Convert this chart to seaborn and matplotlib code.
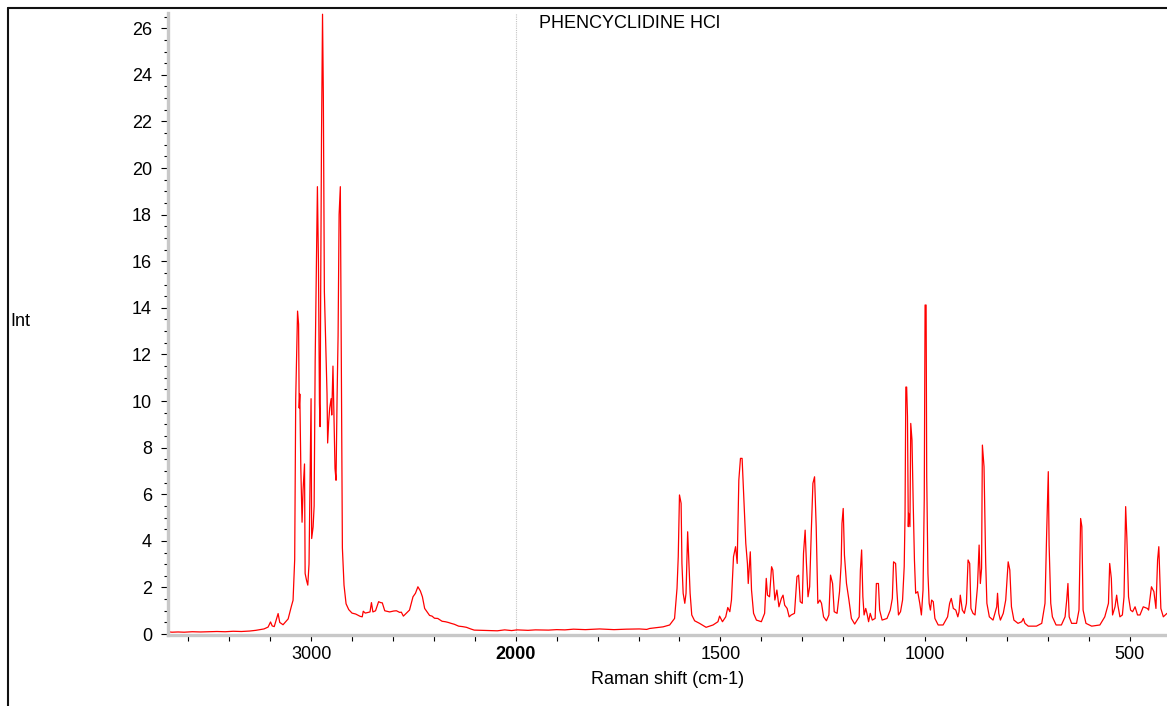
import numpy as np
import pandas as pd
import matplotlib
matplotlib.use("Agg")
import matplotlib.pyplot as plt
from matplotlib.lines import Line2D
import seaborn as sns

sns.set_theme(style="white")
plt.rcParams['font.family'] = ['Liberation Sans', 'DejaVu Sans']
plt.rcParams['text.color'] = 'black'
plt.rcParams['axes.labelcolor'] = 'black'
plt.rcParams['xtick.color'] = 'black'
plt.rcParams['ytick.color'] = 'black'

title = "PHENCYCLIDINE HCl"
x_label = "Raman shift (cm-1)"
y_label = "Int"

# C-H stretching region (cm-1) and intensities
ch_shift = [3699, 3680, 3650, 3620, 3580, 3540, 3500, 3460, 3420, 3380, 3340, 3300,
            3270, 3250, 3230, 3210, 3198, 3190, 3180, 3161, 3153, 3137, 3112, 3096,
            3088, 3080, 3075, 3066, 3061, 3058, 3055, 3050, 3044, 3039, 3032, 3029,
            3022, 3016, 3010, 3006, 3000, 2997, 2990, 2985, 2980, 2974, 2969, 2964,
            2959, 2956, 2953, 2949, 2944, 2940, 2935, 2928, 2922, 2919, 2914, 2909,
            2902, 2899, 2893, 2888, 2883, 2878, 2873, 2868, 2863, 2857, 2852, 2847,
            2839, 2829, 2816, 2800, 2782, 2760, 2750, 2745, 2735, 2726, 2712, 2705,
            2698, 2685, 2670, 2660, 2652, 2640, 2616, 2596, 2583, 2567, 2559, 2549,
            2535, 2519, 2502, 2490, 2478, 2466, 2456, 2445, 2437, 2421, 2409, 2397,
            2381, 2360, 2344, 2330]
ch_int = [0.10, 0.08, 0.09, 0.08, 0.10, 0.09, 0.10, 0.11, 0.10, 0.12, 0.11, 0.13,
          0.16, 0.19, 0.22, 0.30, 0.52, 0.35, 0.32, 0.88, 0.50, 0.40, 0.65, 1.2,
          1.45, 3.2, 10.1, 13.86, 13.3, 9.7, 10.3, 7.1, 4.8, 6.2, 7.3, 2.6,
          2.3, 2.1, 3.0, 5.7, 10.1, 4.1, 4.6, 5.5, 11.7, 16.0, 19.2, 16.0,
          9.9, 8.9, 14.7, 21.3, 26.6, 23.1, 14.7, 12.3, 10.3, 8.2, 9.1, 9.7,
          10.1, 9.4, 11.5, 9.4, 7.1, 6.6, 10.1, 12.8, 18.0, 19.2, 11.5, 3.7,
          2.1, 1.3, 1.05, 0.9, 0.86, 0.76, 0.74, 0.98, 0.9, 0.92, 0.95, 1.35,
          0.95, 1.0, 1.39, 1.35, 1.34, 1.0, 0.95, 0.99, 1.0, 0.93, 0.94, 0.77,
          0.89, 1.03, 1.6, 1.75, 2.03, 1.85, 1.6, 1.1, 1.0, 0.8, 0.77, 0.68,
          0.67, 0.55, 0.53, 0.5]

# quiet middle region
mid_shift = [2316, 2300, 2279, 2260, 2241, 2220, 2203, 2170, 2129, 2090, 2054, 2020,
             1997, 1970, 1952, 1920, 1900, 1880, 1859, 1830, 1795, 1760, 1730, 1698, 1680]
mid_int = [0.46, 0.42, 0.34, 0.32, 0.29, 0.22, 0.17, 0.16, 0.15, 0.14, 0.18, 0.15,
           0.18, 0.16, 0.18, 0.17, 0.19, 0.18, 0.21, 0.19, 0.22, 0.19, 0.21, 0.22, 0.20]

# fingerprint region
fp_shift = [1673, 1640, 1624, 1612, 1606, 1603, 1600, 1596, 1594, 1591, 1587, 1584,
            1580, 1577, 1574, 1570, 1563, 1551, 1535, 1518, 1506, 1502, 1495, 1487,
            1482, 1477, 1473, 1468, 1463, 1459, 1455, 1451, 1447, 1443, 1438, 1434,
            1432, 1427, 1424, 1419, 1412, 1400, 1392, 1388, 1385, 1380, 1375, 1372,
            1367, 1362, 1357, 1351, 1347, 1343, 1337, 1332, 1327, 1319, 1313, 1309,
            1305, 1300, 1297, 1293, 1290, 1286, 1282, 1278, 1274, 1270, 1266, 1262,
            1257, 1253, 1248, 1241, 1235, 1231, 1226, 1222, 1215, 1209, 1205, 1203,
            1200, 1197, 1192, 1186, 1180, 1172, 1161, 1158, 1155, 1152, 1149, 1145,
            1142, 1138, 1134, 1129, 1122, 1119, 1114, 1111, 1105, 1093, 1085, 1080,
            1077, 1072, 1069, 1065, 1060, 1055, 1051, 1049, 1047, 1045, 1043, 1041,
            1040, 1037, 1035, 1032, 1029, 1026, 1023, 1018, 1013, 1009, 1005, 1002,
            1000, 997.5, 996, 993, 990, 987, 984, 980, 976, 968, 956, 945,
            940, 936, 931, 925, 920, 917, 914, 909, 904, 899, 895, 891,
            888, 883, 878, 872, 868, 865, 862, 860, 856, 852, 849, 843,
            834, 825, 823, 820, 816, 809, 803, 797, 793, 789, 783, 773,
            764, 760, 756, 748, 728, 715, 707, 703, 699, 697, 693, 689,
            680, 667, 658, 654, 651, 648, 642, 630, 624, 620, 617, 614,
            607, 593, 573, 561, 552, 549, 545, 542, 536, 532, 529, 524,
            518, 514, 510, 507, 503, 498, 493, 487, 481, 475, 467, 457,
            454, 447, 441, 436, 432, 429, 424, 418, 409]
fp_int = [0.24, 0.31, 0.39, 0.67, 1.96, 3.32, 5.97, 5.61, 3.03, 1.75, 1.32, 1.75,
          4.39, 3.1, 1.75, 0.82, 0.57, 0.46, 0.29, 0.39, 0.53, 0.77, 0.53, 0.74,
          1.14, 0.96, 1.46, 3.32, 3.75, 3.03, 6.61, 7.54, 7.54, 5.89, 3.89, 3.03,
          2.17, 3.53, 1.89, 0.89, 0.6, 0.53, 0.89, 2.39, 1.67, 1.6, 2.89, 2.75,
          1.46, 1.89, 1.17, 1.53, 1.67, 1.24, 1.1, 0.74, 0.82, 0.89, 2.46, 2.53,
          1.39, 1.32, 3.46, 4.46, 3.1, 1.6, 2.03, 4.39, 6.47, 6.75, 4.61, 1.32,
          1.46, 1.32, 0.74, 0.57, 0.82, 2.53, 2.17, 0.96, 0.89, 1.82, 3.03, 4.75,
          5.39, 3.39, 2.17, 1.46, 0.67, 0.43, 0.74, 2.75, 3.61, 1.6, 0.82, 1.1,
          0.89, 0.53, 0.89, 0.6, 0.67, 2.17, 2.17, 1.03, 0.6, 0.67, 1.03, 1.53,
          3.1, 3.03, 1.89, 0.82, 0.96, 1.46, 2.89, 5.04, 10.6, 10.6, 9.33, 4.61,
          5.18, 4.61, 9.04, 8.33, 5.61, 3.18, 1.75, 1.82, 1.32, 0.82, 1.89, 5.82,
          14.12, 14.12, 6.75, 2.6, 1.32, 1.03, 1.46, 1.39, 0.67, 0.39, 0.39, 0.74,
          1.32, 1.53, 1.1, 1.03, 0.74, 0.96, 1.67, 1.03, 0.89, 1.32, 3.18, 3.03,
          1.1, 0.89, 0.82, 2.03, 3.82, 2.17, 2.82, 8.11, 7.18, 3.1, 1.32, 0.74,
          0.6, 1.17, 1.75, 0.89, 0.6, 0.89, 1.46, 3.1, 2.75, 1.17, 0.6, 0.46,
          0.53, 0.67, 0.46, 0.34, 0.34, 0.46, 1.32, 4.32, 6.97, 3.82, 1.32, 0.74,
          0.39, 0.39, 0.74, 1.46, 2.17, 0.74, 0.46, 0.46, 1.03, 4.96, 4.61, 1.03,
          0.46, 0.34, 0.39, 0.74, 1.32, 3.03, 2.39, 0.82, 1.17, 1.67, 1.24, 0.74,
          0.82, 1.6, 5.47, 4.11, 1.6, 1.03, 0.96, 1.17, 0.82, 0.82, 1.17, 1.1,
          1.03, 2.03, 1.82, 1.1, 3.18, 3.75, 1.1, 0.74, 0.89]

x_major = [3000, 2000, 1500, 1000, 500]
x_major_labels = ["3000", "2000", "1500", "1000", "500"]
x_minor = [3600, 3400, 3200, 2800, 2600, 2400, 2200,
           1900, 1800, 1700, 1600, 1400, 1300, 1200, 1100,
           900, 800, 700, 600]
y_major = list(range(0, 27, 2))

df = pd.DataFrame({"shift": ch_shift + mid_shift + fp_shift,
                   "intensity": ch_int + mid_int + fp_int})

W, H = 1167, 706
fig = plt.figure(figsize=(W / 100, H / 100), dpi=100)
ax_left, ax_right, ax_top, ax_bottom = 168, 1167, 13.3, 635
ax = fig.add_axes([ax_left / W, 1 - ax_bottom / H,
                   (ax_right - ax_left) / W, (ax_bottom - ax_top) / H])

sns.lineplot(data=df, x="shift", y="intensity", sort=False, estimator=None,
             color="#ff0000", linewidth=0.9, ax=ax)


def fwd(w):
    w = np.asarray(w, dtype=float)
    return np.where(w > 2000, 2000 + (w - 2000) / 2.0, w)


def inv(u):
    u = np.asarray(u, dtype=float)
    return np.where(u > 2000, 2000 + (u - 2000) * 2.0, u)


ax.set_xscale("function", functions=(fwd, inv))
ax.set_xlim(3699, 409)
ax.set_ylim(-0.04, 26.64)

ax.axvline(2000, color="#c4c4c4", lw=0.8, ls=(0, (1, 1)), zorder=0)

ax.set_xticks(x_major, labels=x_major_labels)
ax.set_xticks(x_minor, minor=True)
ax.set_yticks(y_major, labels=[str(v) for v in y_major])
ax.set_yticks(np.arange(0, 26.6, 0.5), minor=True)
for lab in ax.get_xticklabels():
    if lab.get_text() == "2000":
        lab.set_fontweight("bold")

ax.tick_params(axis="both", which="both", direction="out", colors="black",
               labelsize=13, width=0.8, left=True, bottom=True,
               right=False, top=False)
ax.tick_params(axis="y", which="major", length=5, pad=6.5)
ax.tick_params(axis="y", which="minor", length=3)
ax.tick_params(axis="x", which="both", length=4, pad=4)

for side in ("top", "right"):
    ax.spines[side].set_visible(False)
for side in ("left", "bottom"):
    ax.spines[side].set_color("#c8c8c8")
    ax.spines[side].set_linewidth(2.4)

ax.set_xlabel(x_label, fontsize=13)
ax.xaxis.set_label_coords(0.5, (ax_bottom - 683.5) / (ax_bottom - ax_top))
ax.xaxis.label.set_verticalalignment("baseline")
ax.set_ylabel(y_label, fontsize=13, rotation=0, ha="left")
ax.yaxis.set_label_coords((10 - ax_left) / (ax_right - ax_left),
                          (ax_bottom - 326) / (ax_bottom - ax_top))
ax.yaxis.label.set_verticalalignment("baseline")

fig.text(539 / W, 1 - 28.5 / H, title, fontsize=13, ha="left", va="baseline")

# window frame lines
fig.add_artist(Line2D([7.5 / W, 7.5 / W], [0, 1 - 7.5 / H], transform=fig.transFigure,
                      color="#111111", lw=1.5))
fig.add_artist(Line2D([7.5 / W, 1], [1 - 7.5 / H, 1 - 7.5 / H], transform=fig.transFigure,
                      color="#111111", lw=1.5))

fig.savefig("out.png", dpi=100, facecolor="white")
